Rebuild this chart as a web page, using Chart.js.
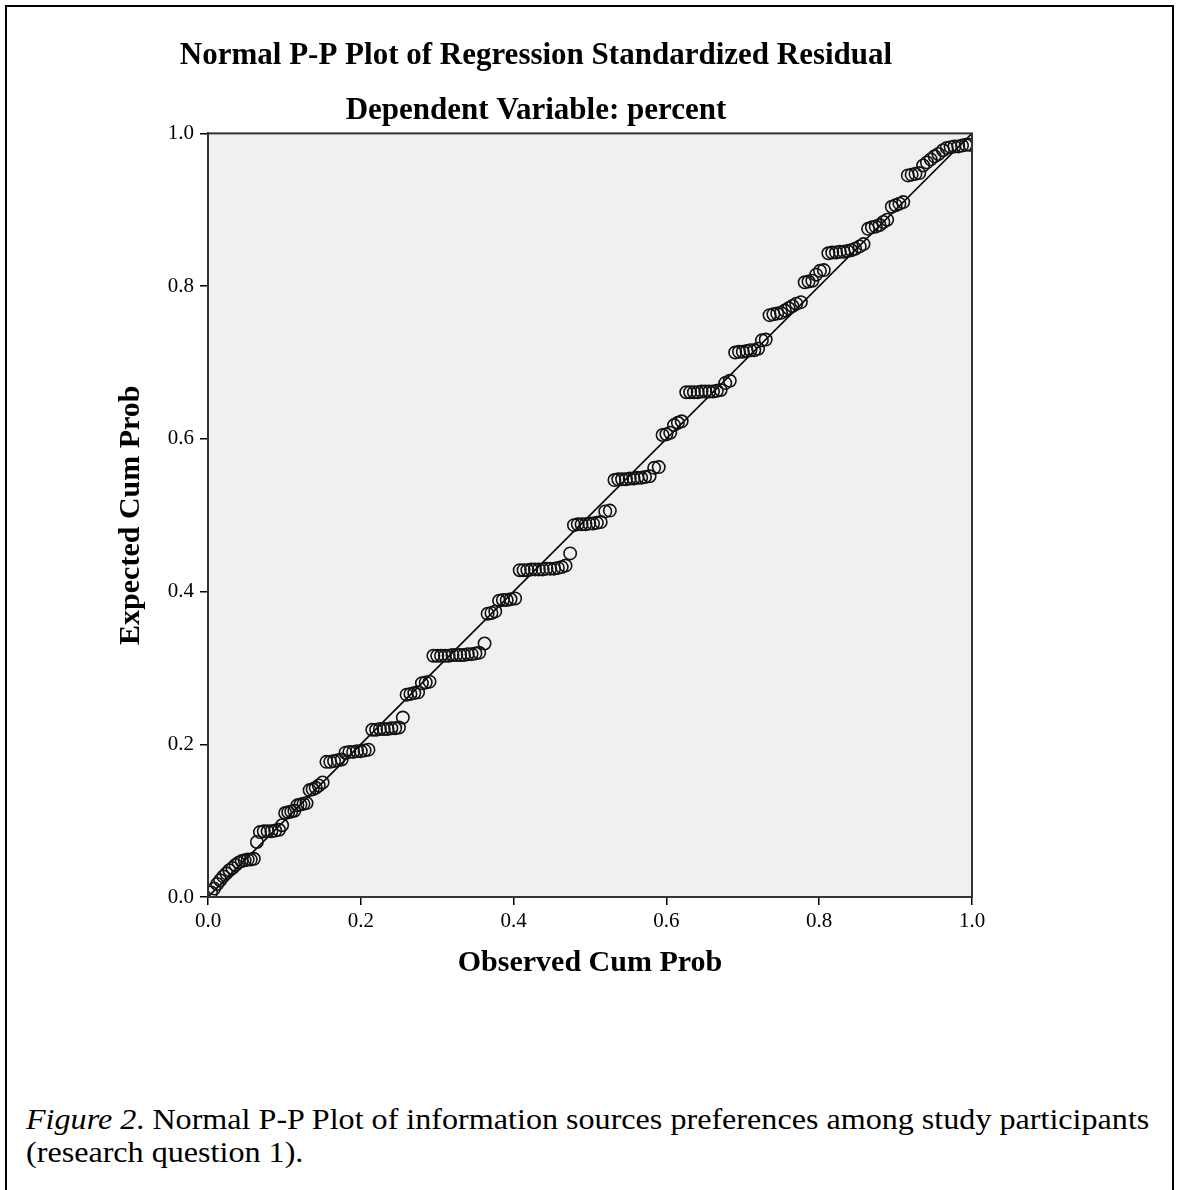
<!DOCTYPE html>
<html>
<head>
<meta charset="utf-8">
<script src="https://cdn.jsdelivr.net/npm/chart.js@4.4.1/dist/chart.umd.min.js"></script>
<style>
  html, body { margin: 0; padding: 0; background: #fff; width: 1180px; height: 1190px; overflow: hidden; }
  #frame { position: absolute; left: 5px; top: 5px; width: 1165px; height: 1200px; border: 2px solid #000; }
  #wrap { position: absolute; left: 0; top: 0; width: 1072px; height: 1010px; }
  #caption { position: absolute; left: 26px; top: 1103px; white-space: nowrap; font-family: 'Liberation Serif', 'Times New Roman', serif; font-size: 28.5px; line-height: 33px; color: #000; transform: scaleX(1.127); transform-origin: 0 0; }
</style>
</head>
<body>
<div id="frame"></div>
<div id="wrap"><canvas id="ppChart" width="1072" height="1010"></canvas></div>
<div id="caption"><i>Figure 2</i>. Normal P-P Plot of information sources preferences among study participants<br>(research question 1).</div>
<script>
// observed cumulative probability (x) and expected cumulative probability (y)
const observedCumProb = [
  0.004, 0.008, 0.012, 0.016, 0.020, 0.024, 0.028, 0.032, 0.036, 0.040,
  0.044, 0.048, 0.052, 0.056, 0.060, 0.064, 0.068, 0.073, 0.078, 0.083,
  0.088, 0.093, 0.097, 0.101, 0.105, 0.109, 0.113, 0.117, 0.121, 0.125,
  0.129, 0.133, 0.137, 0.141, 0.145, 0.150, 0.155, 0.160, 0.165, 0.170,
  0.175, 0.180, 0.185, 0.190, 0.195, 0.200, 0.205, 0.210, 0.215, 0.220,
  0.225, 0.230, 0.235, 0.240, 0.245, 0.250, 0.255, 0.260, 0.265, 0.270,
  0.275, 0.280, 0.285, 0.290, 0.295, 0.300, 0.305, 0.310, 0.315, 0.320,
  0.325, 0.330, 0.335, 0.340, 0.345, 0.350, 0.355, 0.362, 0.366, 0.371,
  0.376, 0.381, 0.386, 0.391, 0.396, 0.402, 0.408, 0.413, 0.418, 0.423,
  0.428, 0.433, 0.438, 0.443, 0.448, 0.453, 0.458, 0.463, 0.468, 0.474,
  0.479, 0.484, 0.489, 0.494, 0.499, 0.504, 0.509, 0.514, 0.520, 0.526,
  0.532, 0.537, 0.542, 0.547, 0.552, 0.557, 0.562, 0.567, 0.572, 0.578,
  0.584, 0.590, 0.595, 0.600, 0.605, 0.610, 0.615, 0.620, 0.626, 0.631,
  0.636, 0.641, 0.646, 0.651, 0.656, 0.661, 0.666, 0.671, 0.677, 0.683,
  0.690, 0.695, 0.700, 0.705, 0.710, 0.715, 0.720, 0.725, 0.730, 0.735,
  0.740, 0.745, 0.750, 0.755, 0.760, 0.765, 0.770, 0.776, 0.781, 0.786,
  0.791, 0.796, 0.801, 0.806, 0.812, 0.817, 0.822, 0.827, 0.832, 0.837,
  0.842, 0.847, 0.853, 0.858, 0.864, 0.869, 0.874, 0.879, 0.884, 0.889,
  0.895, 0.900, 0.905, 0.910, 0.916, 0.921, 0.926, 0.931, 0.936, 0.941,
  0.946, 0.951, 0.956, 0.962, 0.967, 0.972, 0.977, 0.982, 0.987, 0.992,
  0.997
];
const expectedCumProb = [
  0.006, 0.011, 0.017, 0.022, 0.027, 0.031, 0.035, 0.038, 0.042, 0.045,
  0.047, 0.048, 0.049, 0.049, 0.050, 0.072, 0.085, 0.086, 0.086, 0.086,
  0.087, 0.088, 0.094, 0.110, 0.111, 0.112, 0.113, 0.120, 0.121, 0.122,
  0.123, 0.140, 0.141, 0.143, 0.146, 0.150, 0.177, 0.177, 0.178, 0.179,
  0.180, 0.189, 0.190, 0.190, 0.191, 0.191, 0.192, 0.193, 0.219, 0.219,
  0.220, 0.220, 0.220, 0.221, 0.221, 0.222, 0.235, 0.265, 0.266, 0.267,
  0.268, 0.280, 0.281, 0.282, 0.316, 0.316, 0.316, 0.316, 0.316, 0.317,
  0.317, 0.317, 0.317, 0.318, 0.318, 0.319, 0.320, 0.332, 0.371, 0.372,
  0.374, 0.388, 0.389, 0.389, 0.390, 0.391, 0.428, 0.428, 0.428, 0.429,
  0.429, 0.429, 0.429, 0.430, 0.430, 0.430, 0.431, 0.432, 0.434, 0.450,
  0.487, 0.488, 0.488, 0.488, 0.489, 0.489, 0.490, 0.491, 0.505, 0.506,
  0.546, 0.547, 0.547, 0.547, 0.548, 0.548, 0.549, 0.549, 0.550, 0.551,
  0.562, 0.563, 0.605, 0.606, 0.608, 0.618, 0.621, 0.623, 0.661, 0.661,
  0.661, 0.661, 0.662, 0.662, 0.662, 0.662, 0.663, 0.664, 0.673, 0.676,
  0.713, 0.714, 0.714, 0.715, 0.716, 0.716, 0.718, 0.729, 0.730, 0.762,
  0.763, 0.764, 0.765, 0.768, 0.771, 0.774, 0.777, 0.779, 0.805, 0.806,
  0.807, 0.815, 0.820, 0.821, 0.843, 0.844, 0.844, 0.845, 0.845, 0.846,
  0.847, 0.849, 0.852, 0.855, 0.875, 0.877, 0.878, 0.880, 0.884, 0.887,
  0.904, 0.906, 0.908, 0.910, 0.945, 0.946, 0.947, 0.948, 0.958, 0.962,
  0.966, 0.970, 0.973, 0.978, 0.981, 0.982, 0.983, 0.983, 0.984, 0.985,
  0.985
];
// reference line of the P-P plot
const referenceX = [0, 1];
const referenceY = [0, 1];
const tickValues = [0.0, 0.2, 0.4, 0.6, 0.8, 1.0];

const serif = "'Liberation Serif', 'Times New Roman', serif";

// fondo gris y marco del área de trazado
const plotBox = {
    id: 'plotBox',
    beforeDatasetsDraw(chart) {
        const { ctx, chartArea: a } = chart;
        ctx.save();
        ctx.fillStyle = '#f0f0f0';
        ctx.fillRect(a.left, a.top, a.right - a.left, a.bottom - a.top);
        ctx.restore();
    },
    afterDraw(chart) {
        const { ctx, chartArea: a } = chart;
        ctx.save();
        ctx.strokeStyle = '#333';
        ctx.lineWidth = 2;
        ctx.strokeRect(a.left, a.top, a.right - a.left, a.bottom - a.top);
        ctx.restore();
    }
};

const points = observedCumProb.map((x, i) => ({ x: x, y: expectedCumProb[i] }));
const refLine = referenceX.map((x, i) => ({ x: x, y: referenceY[i] }));

function axis(titleText, tickPadding, titlePadding) {
    return {
        type: 'linear',
        min: 0,
        max: 1,
        afterBuildTicks: (scale) => { scale.ticks = tickValues.map(v => ({ value: v })); },
        ticks: {
            color: '#000',
            font: { family: serif, size: 21 },
            padding: tickPadding,
            callback: (v) => Number(v).toFixed(1)
        },
        grid: { drawOnChartArea: false, drawTicks: true, tickLength: 8, color: '#000', lineWidth: 1.5 },
        border: { display: true, color: '#333', width: 2 },
        title: {
            display: true,
            text: titleText,
            color: '#000',
            font: { family: serif, size: 30, weight: 'bold' },
            padding: titlePadding
        }
    };
}

const xAxis = axis('Observed Cum Prob', 4, { top: 0, bottom: 6 });
xAxis.afterFit = (scale) => { scale.height = 90; };
const yAxis = axis('Expected Cum Prob', 6, { top: 13, bottom: 0 });
yAxis.afterFit = (scale) => { scale.width = 108; };

new Chart(document.getElementById('ppChart').getContext('2d'), {
    type: 'scatter',
    data: {
        datasets: [
            {
                data: points,
                pointStyle: 'circle',
                pointRadius: 6.2,
                pointHoverRadius: 6.2,
                pointBorderWidth: 1.6,
                borderColor: '#111',
                backgroundColor: 'rgba(0,0,0,0)'
            },
            {
                type: 'line',
                data: refLine,
                borderColor: '#000',
                borderWidth: 1.6,
                pointRadius: 0,
                fill: false
            }
        ]
    },
    options: {
        responsive: false,
        animation: false,
        layout: { padding: { left: 100, right: 100, top: 0, bottom: 23 } },
        scales: { x: xAxis, y: yAxis },
        plugins: {
            legend: { display: false },
            tooltip: { enabled: false },
            title: {
                display: true,
                text: 'Normal P-P Plot of Regression Standardized Residual',
                color: '#000',
                font: { family: serif, size: 31, weight: 'bold' },
                padding: { top: 37, bottom: 0 }
            },
            subtitle: {
                display: true,
                text: 'Dependent Variable: percent',
                color: '#000',
                font: { family: serif, size: 31, weight: 'bold' },
                padding: { top: 18, bottom: 4 }
            }
        }
    },
    plugins: [plotBox]
});
</script>
</body>
</html>
